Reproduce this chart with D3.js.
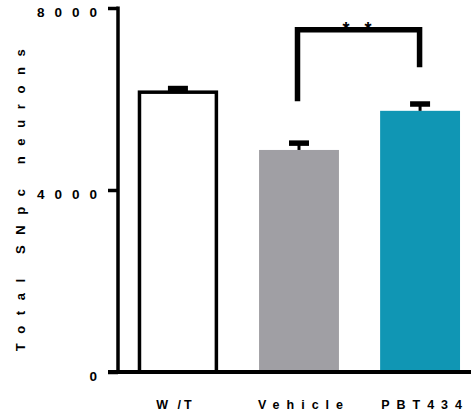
<!DOCTYPE html>
<html>
<head>
<meta charset="utf-8">
<script src="https://cdn.jsdelivr.net/npm/d3@7"></script>
<style>
  html, body { margin: 0; padding: 0; background: #fff; }
  svg { display: block; }
</style>
</head>
<body>
<div id="chart"></div>
<script>
// Group means and SEM
const groups = ["W /T", "Vehicle", "PBT434"];
const means = [6150, 4880, 5740];
const sems = [80, 150, 150];
const fills = ["#ffffff", "#a09fa4", "#1096b4"];
const yTicks = [0, 4000, 8000];
const yTitle = "Total SNpc neurons";
// Significance bracket between Vehicle and PBT434 (data units)
const bracketPair = ["Vehicle", "PBT434"];
const bracketTop = 7520;
const bracketFeet = [5950, 6700];
const bracketLabel = "* *";

const FONT = "'Liberation Sans', Arial, sans-serif";
const W = 471, H = 416;
const svg = d3.select("#chart").append("svg").attr("width", W).attr("height", H);

const axisX = 118;
const y = d3.scaleLinear().domain([0, 8000]).range([372, 8]);
const x = d3.scaleBand().domain(groups).range([axisX, 480])
  .paddingInner(0.34).paddingOuter(0.165);

// Bars
svg.selectAll("rect.bar").data(groups).join("rect")
  .attr("class", "bar")
  .attr("x", (d) => x(d) + (d === groups[0] ? 1.5 : 0))
  .attr("width", (d) => x.bandwidth() - (d === groups[0] ? 3 : 0))
  .attr("y", (d, i) => y(means[i]))
  .attr("height", (d, i) => y(0) - y(means[i]))
  .attr("fill", (d, i) => fills[i])
  .attr("stroke", (d, i) => i === 0 ? "#000" : "none")
  .attr("stroke-width", 3.5);

// Error bars (upper only)
const eb = svg.selectAll("g.err").data(groups).join("g").attr("class", "err");
eb.append("line")
  .attr("x1", (d) => x(d) + x.bandwidth() / 2)
  .attr("x2", (d) => x(d) + x.bandwidth() / 2)
  .attr("y1", (d, i) => y(means[i]))
  .attr("y2", (d, i) => y(means[i] + sems[i]))
  .attr("stroke", "#000").attr("stroke-width", 3);
eb.append("line")
  .attr("x1", (d) => x(d) + x.bandwidth() / 2 - 10)
  .attr("x2", (d) => x(d) + x.bandwidth() / 2 + 10)
  .attr("y1", (d, i) => y(means[i] + sems[i]))
  .attr("y2", (d, i) => y(means[i] + sems[i]))
  .attr("stroke", "#000").attr("stroke-width", 5.5);

// Y axis
const yAxis = svg.append("g").attr("transform", `translate(${axisX},0)`)
  .call(d3.axisLeft(y).tickValues(yTicks).tickFormat(d3.format("d"))
    .tickSize(10).tickSizeOuter(0).tickPadding(1));
yAxis.select(".domain").attr("stroke", "#000").attr("stroke-width", 3.5)
  .attr("d", `M0,${y(8000) - 1.5}V${y(0)}`);
yAxis.selectAll(".tick line").attr("stroke", "#000").attr("stroke-width", 3.5);
yAxis.selectAll(".tick text")
  .style("font-family", FONT)
  .style("font-weight", "bold").style("font-size", "13.5px")
  .style("letter-spacing", "10px").style("fill", "#000")
  .attr("dy", "0.62em");

// X axis baseline
svg.append("line")
  .attr("x1", axisX - 10).attr("x2", W)
  .attr("y1", y(0)).attr("y2", y(0))
  .attr("stroke", "#000").attr("stroke-width", 4);

// Category labels
svg.selectAll("text.cat").data(groups).join("text")
  .attr("class", "cat")
  .attr("x", (d, i) => x(d) + x.bandwidth() / 2 + (i === 0 ? -2.5 : 5))
  .attr("y", 409)
  .attr("text-anchor", "middle")
  .style("font-family", FONT).style("font-weight", "bold")
  .style("font-size", "12.5px")
  .style("letter-spacing", (d, i) => i === 0 ? "3px" : "7px")
  .text((d) => d);

// Y title
svg.append("text")
  .attr("transform", `translate(25,${(y(0) + y(8000)) / 2 + 5}) rotate(-90)`)
  .attr("text-anchor", "middle")
  .style("font-family", FONT).style("font-weight", "bold")
  .style("font-size", "13px")
  .style("letter-spacing", "10.6px")
  .text(yTitle);

// Significance bracket
const bx0 = x(bracketPair[0]) + x.bandwidth() / 2 - 1.5;
const bx1 = x(bracketPair[1]) + x.bandwidth() / 2 - 0.5;
svg.append("path")
  .attr("d", d3.line()([[bx0, y(bracketFeet[0])], [bx0, y(bracketTop)], [bx1, y(bracketTop)], [bx1, y(bracketFeet[1])]]))
  .attr("fill", "none").attr("stroke", "#000").attr("stroke-width", 5.5)
  .attr("stroke-linejoin", "miter");
svg.append("text")
  .attr("x", (bx0 + bx1) / 2 + 1)
  .attr("y", y(bracketTop) + 5)
  .attr("text-anchor", "middle")
  .style("font-family", FONT).style("font-weight", "bold")
  .style("font-size", "18px")
  .style("letter-spacing", "5px")
  .text(bracketLabel);
</script>
</body>
</html>
